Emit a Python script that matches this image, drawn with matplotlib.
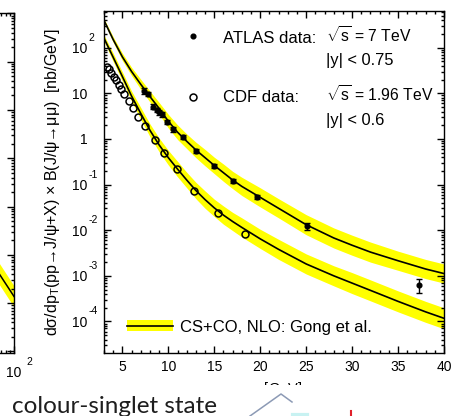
import matplotlib
matplotlib.use('Agg')
import matplotlib.pyplot as plt
import matplotlib.transforms as mtransforms
from matplotlib.lines import Line2D
from matplotlib.patches import Patch, Rectangle
from matplotlib.ticker import FixedLocator, LogLocator, MultipleLocator, NullFormatter
import numpy as np

plt.rcParams['font.family'] = ['Liberation Sans', 'DejaVu Sans']
plt.rcParams['mathtext.fontset'] = 'custom'
plt.rcParams['mathtext.rm'] = 'Liberation Sans'
plt.rcParams['mathtext.it'] = 'Liberation Sans:italic'
plt.rcParams['mathtext.bf'] = 'Liberation Sans:bold'

# ATLAS data, sqrt(s) = 7 TeV, |y| < 0.75  [nb/GeV]
atlas_pt = [7.4, 7.8, 8.35, 8.75, 9.0, 9.3, 9.9, 10.55, 11.55, 13.0, 15.0, 17.0, 19.7, 25.1, 37.3]
atlas_xs = [11.5, 9.77, 5.13, 4.37, 3.89, 3.47, 2.40, 1.62, 1.12, 0.55, 0.257, 0.120, 0.0537, 0.0123, 6.3e-4]
atlas_err = [1.6, 1.2, 0.6, 0.5, 0.45, 0.4, 0.25, 0.17, 0.11, 0.05, 0.025, 0.012, 0.006, 0.0021, 2.2e-4]

# CDF data, sqrt(s) = 1.96 TeV, |y| < 0.6  [nb/GeV]
cdf_pt = [3.3, 3.55, 3.8, 4.1, 4.35, 4.65, 4.9, 5.2, 5.75, 6.2, 6.75, 7.45, 8.55, 9.5, 10.9, 12.8, 15.45, 18.35]
cdf_xs = [38.5, 33.8, 28.4, 23.2, 19.7, 15.3, 12.3, 9.7, 6.8, 4.71, 3.08, 1.93, 0.95, 0.485, 0.217, 0.0724,
          0.0242, 0.00826]

# CS+CO NLO (Gong et al.) central values and band half-widths (decades)
theory_pt = [3, 4, 5, 6, 7, 8, 9, 10, 11, 12, 13, 14, 15, 16, 17, 18, 20, 22, 25, 28, 30, 32, 35, 38, 40]
theory_atlas = [398, 151, 63.1, 30.2, 15.8, 8.51, 4.68, 2.45, 1.41, 0.891, 0.575, 0.389, 0.263, 0.182, 0.126,
                0.0912, 0.0525, 0.0302, 0.0132, 6.76e-3, 4.68e-3, 3.31e-3, 2.14e-3, 1.41e-3, 1.12e-3]
band_atlas = [0.04, 0.06, 0.08, 0.09, 0.11, 0.12, 0.13, 0.15, 0.16, 0.16, 0.17, 0.18, 0.18, 0.19, 0.19, 0.20,
              0.21, 0.21, 0.22, 0.22, 0.22, 0.22, 0.21, 0.21, 0.21]
theory_cdf = [162, 61.7, 23.4, 8.71, 3.63, 1.55, 0.741, 0.389, 0.219, 0.126, 0.0741, 0.0468, 0.0309, 0.0214,
              0.0155, 0.0115, 6.46e-3, 3.80e-3, 1.82e-3, 1.00e-3, 6.92e-4, 4.79e-4, 2.75e-4, 1.62e-4, 1.17e-4]
band_cdf = [0.07, 0.09, 0.10, 0.11, 0.13, 0.14, 0.15, 0.16, 0.17, 0.17, 0.18, 0.19, 0.19, 0.20, 0.20, 0.21,
            0.21, 0.22, 0.22, 0.22, 0.23, 0.23, 0.23, 0.23, 0.23]

ytick_vals = [1e2, 1e1, 1, 1e-1, 1e-2, 1e-3, 1e-4]
ytick_base = ['10', '10', '1', '10', '10', '10', '10']
ytick_exp = ['2', '', '', '-1', '-2', '-3', '-4']

# neighbouring (cropped) panel on the left
left_x = [60, 100]
left_y = [5.2e-4, 1.38e-4]
left_band = 0.22

YELLOW = '#ffff00'

fig = plt.figure(figsize=(4.52, 4.16), dpi=100)
W, H = 452.0, 416.0

# ---- cropped left panel
ax0 = fig.add_axes([-150 / W, 63.3 / H, 164 / W, 340 / H])
ax0.set_xscale('log')
ax0.set_yscale('log')
ax0.set_xlim(1, 100)
ax0.set_ylim(10 ** -5.025, 10 ** 2.014)
lx = np.array(left_x)
ly = np.array(left_y)
ax0.fill_between(lx, ly / 10 ** left_band, ly * 10 ** left_band, color=YELLOW, lw=0)
ax0.plot(lx, ly, color='black', lw=1.1)
ax0.yaxis.set_major_locator(LogLocator(base=10, numticks=20))
ax0.yaxis.set_minor_locator(LogLocator(base=10, subs=np.arange(2, 10), numticks=20))
ax0.tick_params(which='both', direction='in', left=False, right=True, top=True, bottom=True,
                labelleft=False, labelbottom=False, width=1)
ax0.tick_params(which='major', length=5)
ax0.tick_params(which='minor', length=2.5)
ax0.spines['left'].set_visible(False)
for s in ax0.spines.values():
    s.set_linewidth(1.0)
fig.text(6 / W, 1 - 377 / H, '10', fontsize=10, ha='left', va='baseline')
fig.text(26 / W, 1 - 365 / H, '2', fontsize=7.5, ha='left', va='baseline')

# ---- main panel
ax = fig.add_axes([104 / W, 63 / H, 340 / W, 342 / H])
ax.set_yscale('log')
ax.set_xlim(3, 40)
ax.set_ylim(2.03e-5, 640)

tp = np.array(theory_pt)
for vals, band in [(theory_atlas, band_atlas), (theory_cdf, band_cdf)]:
    v = np.array(vals)
    b = 10 ** np.array(band)
    ax.fill_between(tp, v / b, v * b, color=YELLOW, lw=0, zorder=1)
    ax.plot(tp, v, color='black', lw=1.2, zorder=2)

ax.errorbar(atlas_pt, atlas_xs, yerr=atlas_err, fmt='o', color='black', ms=3.4,
            elinewidth=1.0, capsize=2, capthick=1.0, zorder=4)
ax.plot(cdf_pt, cdf_xs, 'o', mfc='none', mec='black', ms=5, mew=1.1, zorder=4)

ax.xaxis.set_major_locator(FixedLocator([5, 10, 15, 20, 25, 30, 35, 40]))
ax.xaxis.set_minor_locator(MultipleLocator(1))
ax.yaxis.set_major_locator(FixedLocator(ytick_vals))
ax.set_yticklabels(ytick_base)
ax.yaxis.set_minor_locator(LogLocator(base=10, subs=np.arange(2, 10), numticks=20))
ax.yaxis.set_minor_formatter(NullFormatter())
ax.tick_params(which='both', direction='in', top=True, right=True, width=1)
ax.tick_params(which='major', length=5)
ax.tick_params(which='minor', length=2.5)
ax.tick_params(axis='x', labelsize=10, pad=5)
ax.tick_params(axis='y', labelsize=10, pad=12)
for s in ax.spines.values():
    s.set_linewidth(1.0)

exp_tr = mtransforms.offset_copy(mtransforms.blended_transform_factory(ax.transAxes, ax.transData),
                                 fig=fig, y=10, units='dots')
for v, e in zip(ytick_vals, ytick_exp):
    if e:
        ax.text(-0.046, v, e, transform=exp_tr, fontsize=7.5, ha='left', va='center')

ax.set_ylabel('d\u03c3/dp$_\\mathregular{T}$(pp\u2192J/\u03c8+X) \u00d7 B(J/\u03c8\u2192\u03bc\u03bc)  [nb/GeV]',
              fontsize=11.5)
ax.yaxis.set_label_coords(-0.124, 0.5)
ax.set_xlabel(r'p$_\mathregular{T}$ [GeV]', fontsize=10.5, labelpad=4)

# data key in upper right
ax.plot([0.261], [0.927], 'o', color='black', ms=3.4, transform=ax.transAxes)
ax.plot([0.261], [0.749], 'o', mfc='none', mec='black', ms=5, mew=1.1, transform=ax.transAxes)
ax.text(0.351, 0.907, 'ATLAS data:', transform=ax.transAxes, fontsize=12, va='baseline')
ax.text(0.653, 0.907, r'$\sqrt{\mathregular{s}}$ = 7 TeV', transform=ax.transAxes, fontsize=11.3, va='baseline')
ax.text(0.653, 0.842, '|y| < 0.75', transform=ax.transAxes, fontsize=11.8, va='baseline')
ax.text(0.351, 0.735, 'CDF data:', transform=ax.transAxes, fontsize=12, va='baseline')
ax.text(0.653, 0.735, r'$\sqrt{\mathregular{s}}$ = 1.96 TeV', transform=ax.transAxes, fontsize=11.3, va='baseline')
ax.text(0.653, 0.667, '|y| < 0.6', transform=ax.transAxes, fontsize=11.8, va='baseline')

h = (Patch(facecolor=YELLOW, edgecolor='none'), Line2D([], [], color='black', lw=1.2))
ax.legend([h], ['CS+CO, NLO: Gong et al.'], loc='center left', bbox_to_anchor=(0.067, 0.076),
          frameon=False, fontsize=12, borderpad=0, borderaxespad=0, handlelength=2.75,
          handleheight=0.66, handletextpad=0.45)

# slide overlay below the chart
fig.add_artist(Rectangle((0, 0), 1, 31 / H, transform=fig.transFigure, facecolor='white',
                         edgecolor='none', zorder=5))
fig.text(12 / W, 3.3 / H, 'colour-singlet state', fontsize=17.5, family=['Lato', 'DejaVu Sans'],
         color='#1e1e1e', va='baseline', zorder=6)
fig.add_artist(Line2D([250 / W, 281 / W, 292 / W], [0, 22 / H, 14 / H], transform=fig.transFigure,
                      color='#8c9ab5', lw=1.1, zorder=6))
fig.add_artist(Line2D([293 / W, 307 / W], [1 / H, 1 / H], transform=fig.transFigure,
                      color='#c8f2f2', lw=3, zorder=6))
fig.add_artist(Line2D([351.5 / W, 351.5 / W], [0, 5 / H], transform=fig.transFigure,
                      color='#e0202a', lw=1.5, zorder=6))

fig.savefig('out.png', dpi=100, facecolor='white')
